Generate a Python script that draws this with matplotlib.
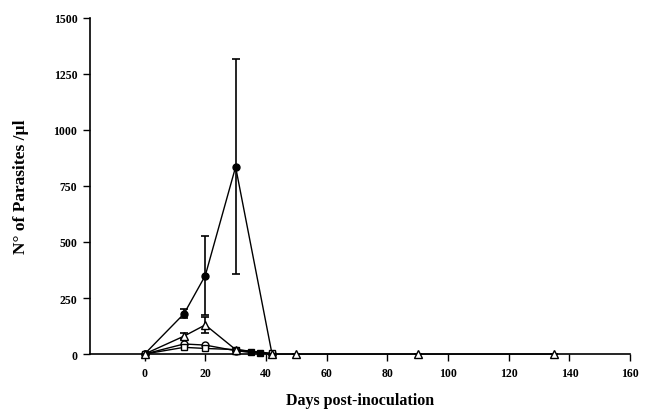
import matplotlib
matplotlib.use("Agg")
import matplotlib.pyplot as plt

# Datos (dias post-inoculacion, parasitos/ul)
dias_fc = [0, 13, 20, 30, 42]
val_fc = [0, 180, 350, 835, 0]
err_fc = [0, 20, 175, 480, 0]

dias_tri = [0, 13, 20, 30, 42, 50, 90, 135]
val_tri = [0, 80, 130, 20, 0, 0, 0, 0]
err_tri = [0, 15, 35, 5, 0, 0, 0, 0]

dias_oc = [0, 13, 20, 30, 42]
val_oc = [0, 45, 40, 15, 0]

dias_sq = [0, 13, 20, 30, 42]
val_sq = [0, 30, 25, 20, 3]

dias_fs = [30, 35, 38, 42]
val_fs = [15, 8, 5, 0]

yticks = [0, 250, 500, 750, 1000, 1250, 1500]
xticks = [0, 20, 40, 60, 80, 100, 120, 140, 160]

plt.rcParams['font.family'] = ['Liberation Serif', 'DejaVu Serif']
plt.rcParams['font.weight'] = 'bold'

fig = plt.figure(figsize=(6.47, 4.10), dpi=100)
ax = fig.add_axes([0.139, 0.134, 0.835, 0.82])

kw = dict(color='black', lw=1, capsize=3, elinewidth=1.2, capthick=1.2)
ebc = ax.errorbar(dias_fc, val_fc, yerr=err_fc, marker='o', ms=5, mfc='black', mec='black', zorder=2, **kw)
ax.plot(dias_fs, val_fs, marker='s', ms=4, mfc='black', mec='black', color='black', lw=1, clip_on=False, zorder=3)
ax.plot(dias_oc, val_oc, marker='o', ms=5, mfc='white', mec='black', color='black', lw=1, clip_on=False, zorder=4)
ax.plot(dias_sq, val_sq, marker='s', ms=5, mfc='white', mec='black', color='black', lw=1, clip_on=False, zorder=5)
ebt = ax.errorbar(dias_tri, val_tri, yerr=err_tri, marker='^', ms=6, mfc='white', mec='black', zorder=6, **kw)
for eb in (ebt, ebc):
    eb[0].set_clip_on(False)

ax.set_xlim(-18, 160)
ax.set_ylim(0, 1500)
ax.set_xticks(xticks)
ax.set_yticks(yticks)
ax.tick_params(labelsize=8.5, length=5, width=1, direction='out', pad=4)
ax.spines['top'].set_visible(False)
ax.spines['right'].set_visible(False)
ax.spines['left'].set_linewidth(1.2)
ax.spines['bottom'].set_linewidth(1.2)

ax.set_xlabel('Days post-inoculation', fontsize=11.5, fontweight='bold', labelpad=10)
ax.set_ylabel('N° of Parasites /µl', fontsize=12.5, fontweight='bold', labelpad=18)

fig.savefig('out.png', dpi=100)
